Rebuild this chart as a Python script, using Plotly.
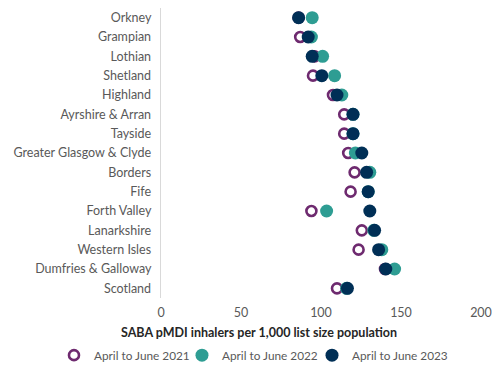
import plotly.graph_objects as go

categories = ["Orkney", "Grampian", "Lothian", "Shetland", "Highland", "Ayrshire & Arran",
              "Tayside", "Greater Glasgow & Clyde", "Borders", "Fife", "Forth Valley",
              "Lanarkshire", "Western Isles", "Dumfries & Galloway", "Scotland"]
y2021 = [86, 87, 96, 95, 107.5, 114.5, 114.5, 117, 121, 118.5, 94, 125.5, 123.5, 140, 110]
y2022 = [94.5, 94, 101, 108.5, 113, 120, 120, 121.5, 130.5, 129.5, 103.5, 133, 138, 146, 116]
y2023 = [86, 92, 94.5, 100.5, 110, 120, 120, 125.5, 128.5, 129.5, 130.5, 133.5, 136, 140.5, 116.5]
series_names = ["April to June 2021", "April to June 2022", "April to June 2023"]

purple = "#6E2A6F"
teal = "#2E9D93"
navy = "#002F56"

fig = go.Figure()
fig.add_trace(go.Scatter(x=y2021, y=categories, mode="markers", name=series_names[0], legend="legend",
                         marker=dict(size=10, color="white", line=dict(color=purple, width=2.6))))
fig.add_trace(go.Scatter(x=y2022, y=categories, mode="markers", name=series_names[1], legend="legend2",
                         marker=dict(size=13, color=teal, line=dict(width=0))))
fig.add_trace(go.Scatter(x=y2023, y=categories, mode="markers", name=series_names[2], legend="legend3",
                         marker=dict(size=13, color=navy, line=dict(width=0))))

leg_common = dict(orientation="h", xref="paper", yref="paper", xanchor="left",
                  y=-0.197, yanchor="middle", font=dict(size=11.8, color="#595959"),
                  itemwidth=30, bgcolor="rgba(0,0,0,0)")

fig.update_layout(
    width=500, height=376,
    margin=dict(l=161, r=19, t=8, b=78, autoexpand=False),
    plot_bgcolor="white", paper_bgcolor="white",
    font=dict(family="Lato, Open Sans, sans-serif", size=12.5, color="#595959"),
    showlegend=True,
    legend=dict(x=-0.3344, **leg_common),
    legend2=dict(x=0.0656, **leg_common),
    legend3=dict(x=0.4719, **leg_common),
    xaxis=dict(range=[0, 200], tickvals=[0, 50, 100, 150, 200], showgrid=False, zeroline=False,
               showline=False, ticks="", automargin=False, ticklabelstandoff=5,
               tickfont=dict(size=12.5, color="#595959")),
    yaxis=dict(categoryorder="array", categoryarray=categories,
               range=[14.5, -0.5], autorange=False, showgrid=False, zeroline=False, showline=True,
               linecolor="#D9D9D9", linewidth=1, ticks="", ticksuffix="  ", automargin=False,
               tickfont=dict(size=12.5, color="#595959")),
    annotations=[dict(text="<b>SABA pMDI inhalers per 1,000 list size population</b>",
                      xref="paper", yref="paper", x=0.306, y=-0.12, xanchor="center",
                      yanchor="middle", showarrow=False,
                      font=dict(size=12.5, color="#262626"))],
)

fig.write_html("out.html", config={"displayModeBar": False},
               post_script="document.body.style.margin='0';")
